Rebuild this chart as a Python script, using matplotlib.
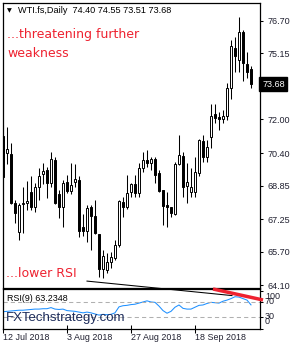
import numpy as np
import matplotlib.pyplot as plt
from matplotlib.transforms import blended_transform_factory

plt.rcParams['font.family'] = ['Liberation Sans', 'DejaVu Sans']

# daily WTI candles, 12 Jul 2018 .. 8 Oct 2018
opens = [71.21, 70.39, 70.37, 68.00, 66.65, 67.95, 68.00, 68.54, 67.81, 68.77,
         69.39, 69.59, 68.99, 70.07, 68.45, 67.84, 69.02, 68.60, 69.00, 69.11,
         66.86, 66.70, 67.81, 67.40, 66.53, 64.86, 64.83, 65.22, 65.41, 66.02,
         68.08, 67.81, 68.56, 68.92, 68.50, 69.67, 70.07, 69.91, 70.10, 69.43,
         68.64, 67.92, 67.84, 67.50, 69.88, 70.27, 68.83, 68.56, 68.54, 69.43,
         70.99, 70.20, 71.18, 72.24, 72.10, 72.00, 72.16, 73.48, 75.39, 74.83,
         76.18, 74.64, 74.40]
highs = [71.73, 71.62, 70.89, 68.16, 68.00, 68.78, 69.05, 69.30, 68.99, 69.67,
         69.94, 69.75, 70.46, 70.20, 68.64, 69.11, 69.35, 69.94, 69.88, 69.30,
         67.50, 67.92, 67.92, 68.16, 66.55, 65.78, 65.62, 65.70, 66.26, 68.16,
         68.29, 69.35, 68.96, 69.35, 69.91, 70.46, 70.54, 70.22, 70.22, 69.59,
         68.64, 68.56, 67.84, 69.99, 71.26, 70.46, 69.91, 69.70, 70.20, 71.05,
         71.26, 71.02, 72.73, 72.73, 72.37, 72.45, 73.75, 75.78, 75.91, 76.89,
         76.26, 75.20, 74.55]
lows = [69.20, 69.88, 67.95, 67.05, 66.26, 66.60, 67.68, 67.68, 67.60, 68.16,
        68.92, 68.24, 68.80, 67.95, 67.29, 66.89, 68.50, 68.45, 68.80, 66.41,
        66.45, 66.18, 65.78, 66.55, 64.50, 64.43, 64.67, 64.91, 65.30, 65.94,
        67.37, 67.72, 68.32, 68.32, 68.32, 69.50, 69.75, 69.59, 68.96, 68.56,
        66.97, 66.89, 67.34, 67.45, 69.83, 68.32, 68.00, 68.29, 68.29, 69.30,
        69.99, 69.99, 70.62, 71.81, 71.50, 71.81, 71.97, 72.96, 74.27, 74.27,
        73.84, 73.96, 73.51]
closes = [69.26, 70.58, 68.00, 67.56, 67.92, 68.02, 68.10, 67.81, 68.77, 69.30,
          69.54, 68.99, 70.10, 68.00, 67.84, 68.99, 68.60, 68.88, 69.15, 66.70,
          66.70, 67.77, 67.40, 66.58, 64.86, 65.50, 65.22, 65.46, 66.02, 68.13,
          67.84, 68.51, 68.91, 68.50, 69.67, 70.07, 69.91, 70.10, 69.35, 68.60,
          67.88, 67.81, 67.53, 69.88, 70.30, 68.80, 69.02, 68.77, 69.48, 71.02,
          70.20, 70.70, 72.16, 72.05, 72.00, 72.18, 73.48, 75.50, 75.02, 76.18,
          74.67, 74.27, 73.68]
rsi = [45, 46, 47, 48, 49, 49, 50, 51, 52, 52,
       53, 53, 56, 52, 51, 52, 48, 47, 46, 44,
       42, 44, 42, 39, 36, 38, 37, 38, 42, 58,
       61, 62, 64, 65, 68, 71, 74, 71, 70, 60,
       48, 41, 46, 57, 63, 54, 52, 52, 57, 62,
       63, 67, 70, 69, 68, 73, 76, 80, 85, 84,
       80, 76, 63.23]

price_ticks = [76.70, 75.15, 72.00, 70.40, 68.85, 67.25, 65.70, 64.10]
last_price = 73.68
rsi_levels = [70, 30]
date_labels = ['12 Jul 2018', '3 Aug 2018', '27 Aug 2018', '18 Sep 2018']
date_pos = [0, 16, 32, 48]

# trend lines drawn on the chart (bar index, value)
black_trend_x = [21, 57.25]
black_trend_y = [64.30, 63.61]
red_trend_x = [52.5, 65]
red_trend_rsi = [105.6, 76.3]

W, H = 300, 350
red = '#ee2230'
navy = '#1c2b5a'
dark = '#202030'


def fx(x):
    return x / W


def fy(y):
    return 1 - y / H


fig = plt.figure(figsize=(3, 3.5), dpi=100)
fig.patch.set_facecolor('white')

ax = fig.add_axes([fx(2.5), fy(287.5), fx(260) - fx(2.5), fy(2.5) - fy(287.5)])
ax_r = fig.add_axes([fx(2.5), fy(329.3), fx(260) - fx(2.5), fy(289) - fy(329.3)])
ax_r.patch.set_alpha(0)

o = np.array(opens)
c = np.array(closes)
idx = np.arange(len(o))
up = c >= o

ax.vlines(idx, lows, highs, color='black', lw=0.75, zorder=2)
ax.bar(idx[up], np.maximum((c - o)[up], 0.02), bottom=o[up], width=0.6,
       color='white', edgecolor='black', linewidth=0.7, zorder=3)
ax.bar(idx[~up], (o - c)[~up], bottom=c[~up], width=0.6,
       color='black', edgecolor='black', linewidth=0.7, zorder=3)

ax.set_xlim(-0.125, 64.25)
ax.set_ylim(63.995, 77.567)
ax.set_xticks([])
ax.yaxis.tick_right()
ax.set_yticks(price_ticks)
ax.set_yticklabels(['%.2f' % v for v in price_ticks])
ax.tick_params(axis='y', direction='out', length=2.5, width=0.75, pad=3,
               labelsize=6.5, labelcolor=dark)
for s in ax.spines.values():
    s.set_linewidth(0.9)

trans = blended_transform_factory(ax.transAxes, ax.transData)
ax.text(1.008, last_price, '73.68', transform=trans, ha='left', va='center',
        color='white', fontsize=6.5,
        bbox=dict(boxstyle='square,pad=0.3', fc='black', ec='black'))

ax.plot(black_trend_x, black_trend_y, color='black', lw=0.75, clip_on=False, zorder=5)

# RSI panel
ax_r.plot(idx, rsi, color='#1e90ff', lw=0.75)
for lv in rsi_levels:
    ax_r.axhline(lv, color='#b0b0b0', lw=0.75, dashes=(4, 3))
ax_r.plot(red_trend_x, red_trend_rsi, color=red, lw=2.5, clip_on=False,
          solid_capstyle='butt', zorder=6)
ax_r.set_xlim(-0.125, 64.25)
ax_r.set_ylim(-1.9, 105.6)
ax_r.set_yticks([100, 70, 30, 0])
ax_r.set_yticklabels([])
ax_r.yaxis.tick_right()
ax_r.tick_params(axis='y', direction='out', length=2.5, width=0.75)
ax_r.set_xticks(date_pos)
ax_r.set_xticklabels(date_labels, ha='left')
ax_r.tick_params(axis='x', direction='inout', length=6, width=0.75, pad=0,
                 labelsize=6.4, labelcolor=dark)
for s in ax_r.spines.values():
    s.set_linewidth(0.9)

# RSI scale labels
for txt, y in [('100', 296.7), ('70', 301.7), ('30', 316.7), ('0', 321)]:
    fig.text(fx(265), fy(y), txt, fontsize=6.5, color=dark, ha='left', va='center')

# texts
fig.text(fx(6.5), fy(11), '\u25bc', fontsize=4.5, ha='left', va='center',
         family=['DejaVu Sans'])
fig.text(fx(18), fy(13.3), 'WTI.fs,Daily  74.40 74.55 73.51 73.68', fontsize=6.6,
         color='black', ha='left', va='baseline')
fig.text(fx(7), fy(38.3), '...threatening further', fontsize=9, color=red,
         family=['DejaVu Sans'], ha='left', va='baseline')
fig.text(fx(7), fy(56.7), 'weakness', fontsize=9, color=red,
         family=['DejaVu Sans'], ha='left', va='baseline')
fig.text(fx(6), fy(277.3), '...lower RSI', fontsize=9, color=red,
         family=['DejaVu Sans'], ha='left', va='baseline')
fig.text(fx(7.3), fy(301), 'RSI(9) 63.2348', fontsize=6.4, color='black',
         ha='left', va='baseline')
fig.text(fx(6), fy(321), 'FXTechstrategy.com', fontsize=9.5, color=navy,
         ha='left', va='baseline')

fig.savefig('out.png', dpi=100)
plt.close(fig)
